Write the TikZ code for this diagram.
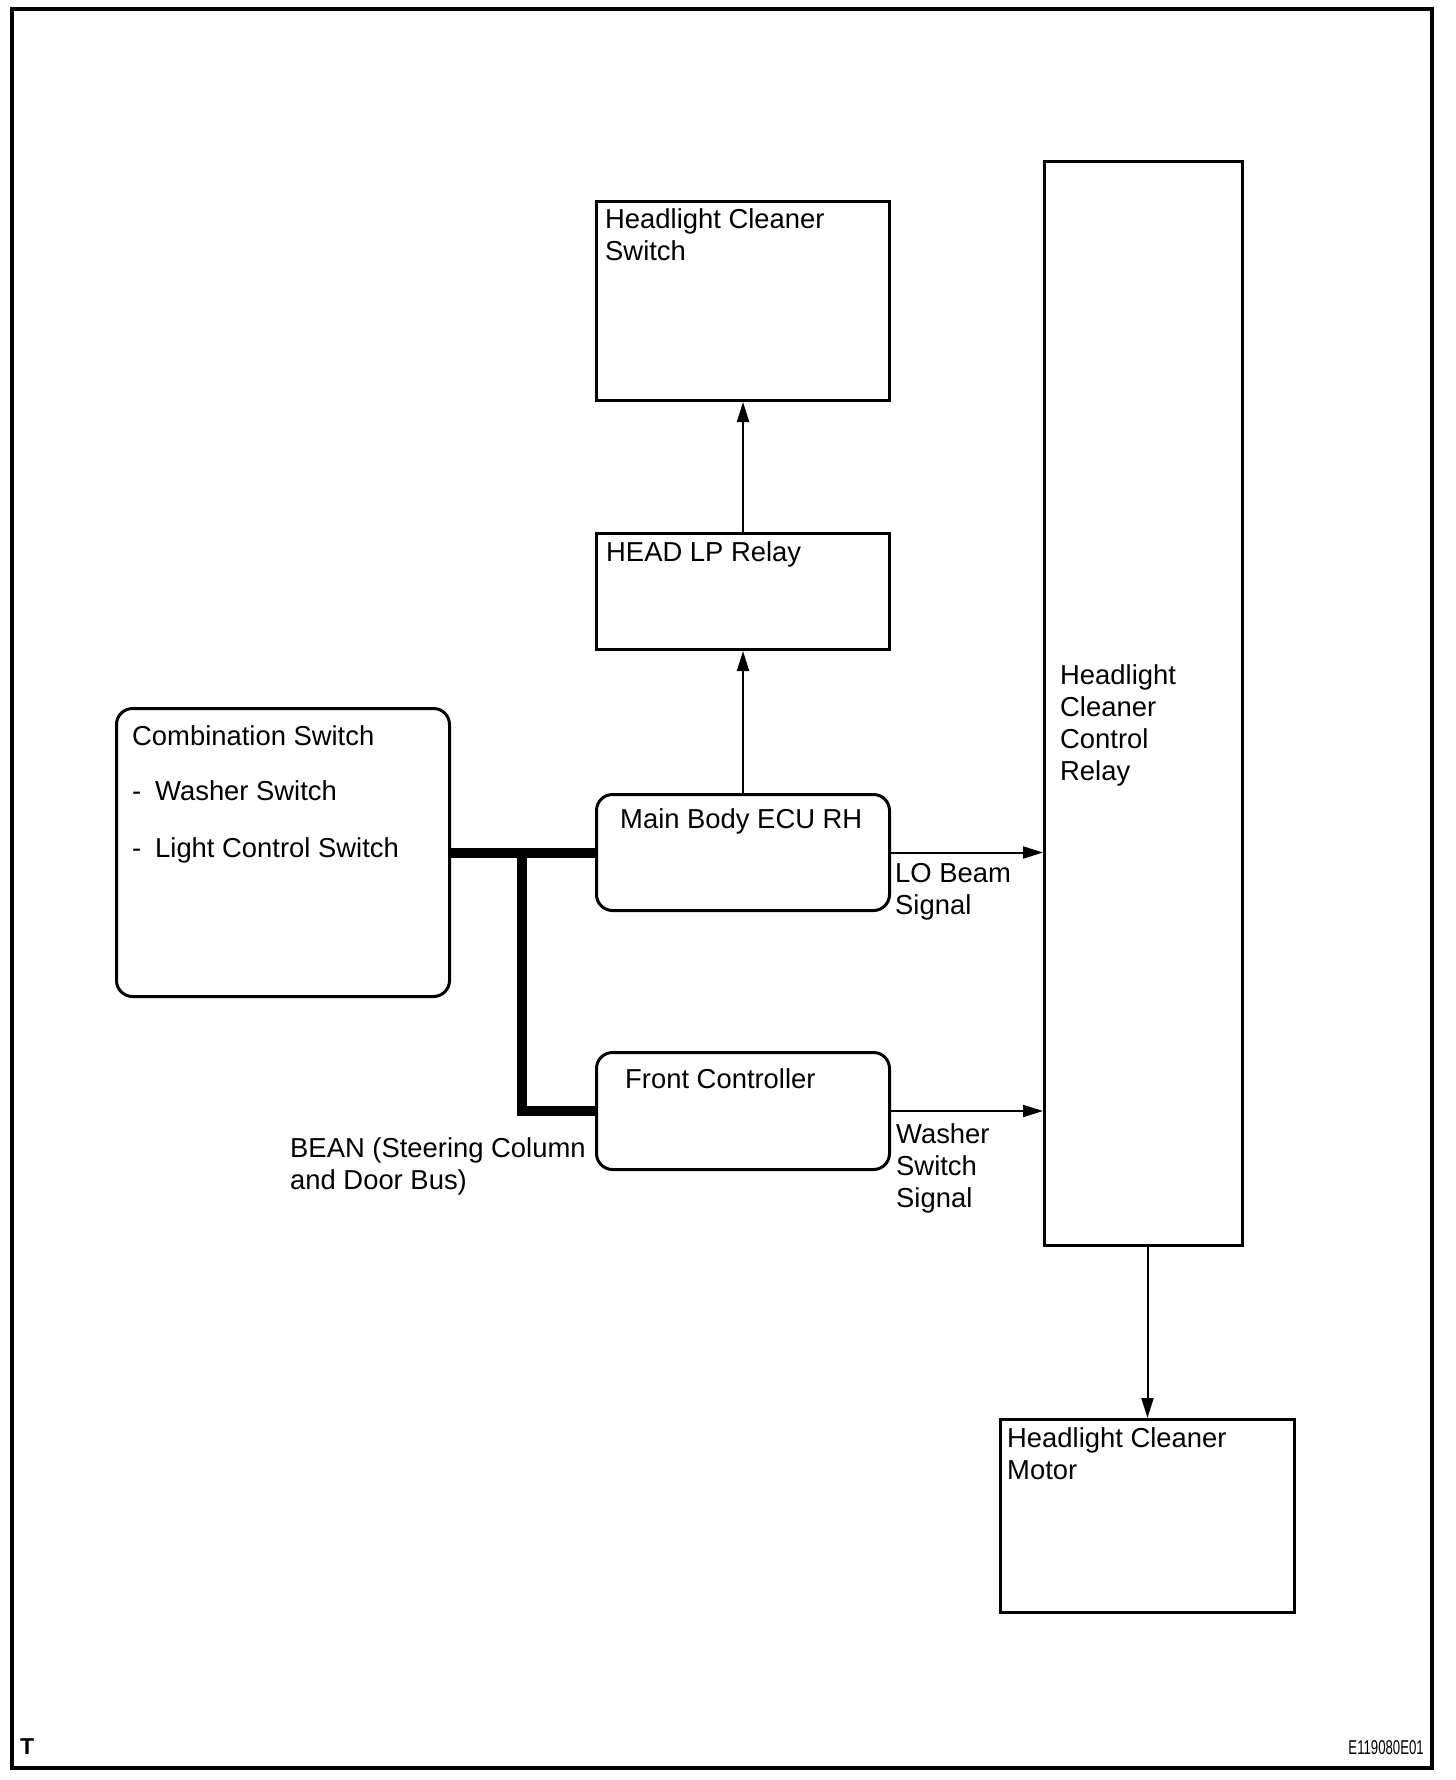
\documentclass[tikz,border=0pt]{standalone}
\usepackage{fontspec}
\setmainfont{Liberation Sans}
\usetikzlibrary{arrows.meta}
\tikzset{
  blk/.style={draw, line width=3pt, inner sep=0pt, anchor=north west},
  rblk/.style={blk, rounded corners=16pt},
  lbl/.style={anchor=north west, inner sep=0pt, align=left, font=\fontsize{27.4}{32}\selectfont},
  sig/.style={-{Triangle[length=20pt,width=12pt]}, line width=2pt},
  bus/.style={line width=10pt},
}
\begin{document}
\begin{tikzpicture}[x=1pt,y=-1pt]
	\useasboundingbox (0,0) rectangle (1456,1780);
	\draw[line width=4pt] (12,9) rectangle (1432,1768);

	% blocks
	\node[blk, minimum width=293pt, minimum height=199pt] (hcs) at (595,200) {};
	\node[blk, minimum width=293pt, minimum height=116pt] (lprelay) at (595,532) {};
	\node[rblk, minimum width=293pt, minimum height=116pt] (ecu) at (595,793) {};
	\node[rblk, minimum width=293pt, minimum height=117pt] (fc) at (595,1051) {};
	\node[rblk, minimum width=333pt, minimum height=288pt] (comb) at (115,707) {};
	\node[blk, minimum width=198pt, minimum height=1084pt] (ctrl) at (1043,160) {};
	\node[blk, minimum width=294pt, minimum height=193pt] (motor) at (999,1418) {};

	\node[lbl] (hcs-t) at (605,208) {Headlight Cleaner\\Switch};
	\node[lbl] (lprelay-t) at (606,541) {HEAD LP Relay};
	\node[lbl] (ecu-t) at (620,808) {Main Body ECU RH};
	\node[lbl] (fc-t) at (625,1068) {Front Controller};
	\node[lbl] (comb-t) at (132,725) {Combination Switch\\[23pt]\makebox[23pt][l]{-}Washer Switch\\[25pt]\makebox[23pt][l]{-}Light Control Switch};
	\node[lbl] (ctrl-t) at (1060,664) {Headlight\\Cleaner\\Control\\Relay};
	\node[lbl] (motor-t) at (1007,1427) {Headlight Cleaner\\Motor};

	% BEAN
	\coordinate (busj) at (522,851);
	\draw[bus] (comb.east) -- (ecu.west);
	\draw[bus] (busj) |- (fc.west);
	\node[lbl] (bean) at (290,1137) {BEAN (Steering Column\\and Door Bus)};

	% signals
	\draw[sig] (ecu.north) -- (lprelay.south);
	\draw[sig] (lprelay.north) -- (hcs.south);
	\draw[sig] (ecu.east) -- (ecu.east -| ctrl.west);
	\draw[sig] (fc.east) -- (fc.east -| ctrl.west);
	\draw[sig] (ctrl.south -| motor.north) -- (motor.north);
	\node[lbl] (lo) at (895,863) {LO Beam\\Signal};
	\node[lbl] (ws) at (896,1123) {Washer\\Switch\\Signal};

	\node[anchor=north west, inner sep=0pt, font=\bfseries\fontsize{23}{23}\selectfont] (tmark) at (20,1738) {T};
	\node[anchor=north east, inner sep=0pt, font=\fontsize{20}{20}\selectfont] (code) at (1424,1740) {\scalebox{0.66}[1]{E119080E01}};
\end{tikzpicture}
\end{document}
